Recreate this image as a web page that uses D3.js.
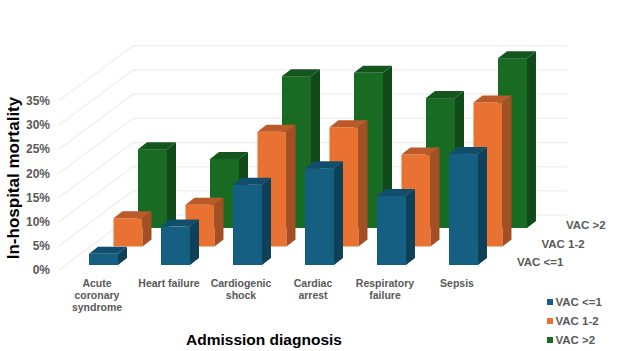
<!DOCTYPE html>
<html>
<head>
<meta charset="utf-8">
<script src="https://cdn.jsdelivr.net/npm/d3@7"></script>
<style>
    html, body { margin: 0; padding: 0; background: #fff; }
    text { font-family: "Liberation Sans", Arial, sans-serif; font-weight: bold; }
    .axis text, .cat, .depth, .legend text { fill: #595959; }
</style>
</head>
<body>
<div id="chart"></div>
<script>
// values (percent)
const categories = [
    ["Acute", "coronary", "syndrome"],
    ["Heart failure"],
    ["Cardiogenic", "shock"],
    ["Cardiac", "arrest"],
    ["Respiratory", "failure"],
    ["Sepsis"]
];
const seriesNames = ["VAC <=1", "VAC 1-2", "VAC >2"];
const vacLow = [2.3, 7.9, 16.5, 19.9, 14.2, 22.8];
const vacMid = [5.8, 8.6, 23.6, 24.5, 18.9, 29.6];
const vacHigh = [16.2, 14.2, 31.2, 31.9, 26.7, 34.9];
const seriesValues = [vacLow, vacMid, vacHigh];
const yTicks = [0, 5, 10, 15, 20, 25, 30, 35];

const faceColors = ["#156082", "#E97132", "#196B24"];
const topColors = ["#114e6b", "#ba5a28", "#14561d"];
const sideColors = ["#0e4058", "#a34f23", "#114a19"];

const width = 624, height = 351;
const svg = d3.select("#chart").append("svg")
    .attr("width", width)
    .attr("height", height)
    .style("display", "block");

// front plane scales, depth is faked with a shift per series
const x = d3.scaleBand().domain(d3.range(6)).range([67.4, 499.6]).paddingInner(0.597).paddingOuter(0.3);
const y = d3.scaleLinear().domain([0, 35]).range([265, 94.7]);
const depthX = d3.scaleLinear().domain([0, 2]).range([0, 49]);
const depthY = d3.scaleLinear().domain([0, 2]).range([0, -37]);
const barW = 29, dx = 9, dy = 7;

// floor corners for the walls
const wallLeft = 59, wallBack = 133, wallRight = 567, wallRise = 55;
const yFront = d3.scaleLinear().domain([0, 35]).range([270, 100.7]);

const grid = svg.append("g");
yTicks.forEach(t => {
    const y0 = yFront(t);
    grid.append("polyline")
        .attr("points", [[wallLeft, y0], [wallBack, y0 - wallRise], [wallRight, y0 - wallRise]].join(" "))
        .attr("fill", "none")
        .attr("stroke", "#f0f0f0")
        .attr("stroke-width", 1.5);
});

// back row first so the front row hides it
[2, 1, 0].forEach(s => {
    const sx = depthX(s), sy = depthY(s);
    const g = svg.append("g").attr("transform", `translate(${sx},${sy})`);
    const bars = g.selectAll("g").data(seriesValues[s]).enter().append("g");

    bars.append("rect")
        .attr("x", (d, i) => x(i))
        .attr("y", d => y(d))
        .attr("width", barW)
        .attr("height", d => y(0) - y(d))
        .attr("fill", faceColors[s]);

    bars.append("polygon")
        .attr("points", (d, i) => {
            const r = x(i) + barW;
            return [[r, y(d)], [r + dx, y(d) - dy], [r + dx, y(0) - dy], [r, y(0)]].join(" ");
        })
        .attr("fill", sideColors[s]);

    bars.append("polygon")
        .attr("points", (d, i) => {
            const l = x(i);
            return [[l, y(d)], [l + dx, y(d) - dy], [l + barW + dx, y(d) - dy], [l + barW, y(d)]].join(" ");
        })
        .attr("fill", topColors[s]);
});

// y axis
const yAxis = d3.axisLeft(yFront)
    .tickValues(yTicks)
    .tickFormat(d => d + "%")
    .tickSize(0)
    .tickPadding(0);
const yG = svg.append("g")
    .attr("class", "axis")
    .attr("transform", "translate(50,0)")
    .call(yAxis);
yG.select(".domain").remove();
yG.selectAll("text").style("font-size", "12px").style("font-family", null);

// category labels
const catText = svg.selectAll(".cat").data(categories).enter().append("text")
    .attr("class", "cat")
    .attr("text-anchor", "middle")
    .style("font-size", "10.5px");
catText.selectAll("tspan").data((d, i) => d.map(line => ({line, i}))).enter().append("tspan")
    .attr("x", d => x(d.i) + barW / 2 - 6.5)
    .attr("y", (d, j) => 287 + j * 12)
    .text(d => d.line);

// depth labels
svg.selectAll(".depth").data(seriesNames).enter().append("text")
    .attr("class", "depth")
    .attr("x", (d, i) => 517 + depthX(i))
    .attr("y", (d, i) => 266 + depthY(i))
    .style("font-size", "11.5px")
    .text(d => d);

// axis titles
svg.append("text")
    .attr("x", 264)
    .attr("y", 345)
    .attr("text-anchor", "middle")
    .style("font-size", "15.5px")
    .attr("fill", "#000")
    .text("Admission diagnosis");

svg.append("text")
    .attr("transform", "translate(19,178) rotate(-90)")
    .attr("text-anchor", "middle")
    .style("font-size", "17px")
    .attr("fill", "#000")
    .text("In-hospital mortality");

// legend
const legend = svg.append("g").attr("class", "legend");
const legendY = d3.scalePoint().domain(seriesNames).range([302, 340]);
legend.selectAll("rect").data(seriesNames).enter().append("rect")
    .attr("x", 547)
    .attr("y", d => legendY(d) - 3)
    .attr("width", 6)
    .attr("height", 6)
    .attr("fill", (d, i) => faceColors[i]);
legend.selectAll("text").data(seriesNames).enter().append("text")
    .attr("x", 555.5)
    .attr("y", d => legendY(d) + 4)
    .style("font-size", "11.5px")
    .text(d => d);
</script>
</body>
</html>
